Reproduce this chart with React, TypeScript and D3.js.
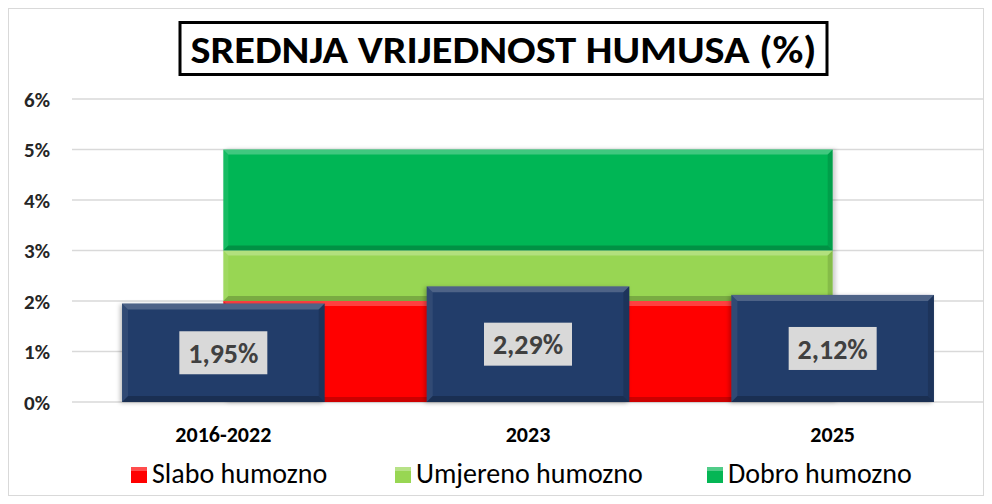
import React from "react";
import * as d3 from "d3";

const categories = ["2016-2022", "2023", "2025"];
const meanValues = [1.95, 2.29, 2.12];
const valueLabels = ["1,95%", "2,29%", "2,12%"];
const slaboBand = [2, 2, 2];
const umjerenoBand = [1, 1, 1];
const dobroBand = [2, 2, 2];
const yTicks = [0, 1, 2, 3, 4, 5, 6];
const seriesNames = ["Slabo humozno", "Umjereno humozno", "Dobro humozno"];
const seriesColors = ["#ff0000", "#98d653", "#05b655"];
const titleText = "SREDNJA VRIJEDNOST HUMUSA (%)";

const W = 992;
const H = 504;
const FONT = "Carlito, 'Liberation Sans Narrow', 'Open Sans', 'Liberation Sans', sans-serif";

function Bevel({ x0, y0, x1, y1, b, light = 0.22, dark = 0.25 }: any) {
  const pts = (a: number[][]) => a.map((p) => p.join(",")).join(" ");
  return (
    <g>
      <polygon points={pts([[x0, y0], [x1, y0], [x1 - b, y0 + b], [x0 + b, y0 + b]])} fill="#fff" opacity={light} />
      <polygon points={pts([[x0, y0], [x0 + b, y0 + b], [x0 + b, y1 - b], [x0, y1]])} fill="#fff" opacity={light * 0.35} />
      <polygon points={pts([[x1, y0], [x1, y1], [x1 - b, y1 - b], [x1 - b, y0 + b]])} fill="#000" opacity={dark * 0.6} />
      <polygon points={pts([[x0, y1], [x1, y1], [x1 - b, y1 - b], [x0 + b, y1 - b]])} fill="#000" opacity={dark} />
    </g>
  );
}

export default function App() {
  const x = d3.scaleBand<string>().domain(categories).range([71, 985]).paddingInner(0).paddingOuter(0);
  const y = d3.scaleLinear().domain([0, 6]).range([402, 99]);
  const barW = x.bandwidth() * 0.665;
  const cx = (c: string) => (x(c) as number) + x.bandwidth() / 2;

  const stackData = categories.map((c, i) => ({ c, s: slaboBand[i], u: umjerenoBand[i], d: dobroBand[i] }));
  const stack = d3.stack<any>().keys(["s", "u", "d"])(stackData);
  const area = d3
    .area<any>()
    .x((d: any) => cx(d.data.c))
    .y0((d: any) => y(d[0]))
    .y1((d: any) => y(d[1]));

  const legendX = [131, 395, 707];

  return (
    <svg width={W} height={H} style={{ position: "absolute", left: 0, top: 0 }} fontFamily={FONT}>
      <defs>
        <filter id="sh" x="-10%" y="-10%" width="120%" height="120%">
          <feDropShadow dx="-2" dy="1" stdDeviation="2" floodColor="#000" floodOpacity="0.25" />
        </filter>
        <filter id="sh2" x="-10%" y="-10%" width="120%" height="120%">
          <feDropShadow dx="3" dy="0" stdDeviation="2" floodColor="#000" floodOpacity="0.2" />
        </filter>
      </defs>
      <rect x={0} y={0} width={W} height={H} fill="#fff" />
      <rect x={8.5} y={8.5} width={975} height={487} fill="#fff" stroke="#d9d9d9" />

      {yTicks.map((t) => (
        <g key={t}>
          <line x1={72} x2={984} y1={y(t)} y2={y(t)} stroke="#d9d9d9" strokeWidth={1.3} />
          <text x={50} y={y(t)} dy="0.36em" textAnchor="end" fontWeight="bold" fontSize={21} fill="#262626">
            {t}%
          </text>
        </g>
      ))}

      <g filter="url(#sh2)">
        {stack.map((layer, i) => (
          <path key={i} d={area(layer as any) as string} fill={seriesColors[i]} />
        ))}
      </g>
      {stack.map((layer, i) => (
        <Bevel
          key={"b" + i}
          x0={cx(categories[0])}
          x1={cx(categories[categories.length - 1])}
          y0={y(layer[0][1])}
          y1={y(layer[0][0])}
          b={5}
          light={0.25}
          dark={0.2}
        />
      ))}

      {categories.map((c, i) => {
        const x0 = cx(c) - barW / 2;
        const x1 = cx(c) + barW / 2;
        const y0 = y(meanValues[i]);
        const y1 = y(0);
        return (
          <g key={c}>
            <rect x={x0} y={y0} width={barW} height={y1 - y0} fill="#223e6b" filter="url(#sh)" />
            <Bevel x0={x0} x1={x1} y0={y0} y1={y1} b={6} light={0.2} dark={0.22} />
            <rect x={cx(c) - 44} y={(y0 + y1) / 2 - 21.5} width={88} height={43} fill="#d9d9d9" />
            <text
              x={cx(c)}
              y={(y0 + y1) / 2}
              dy="0.36em"
              textAnchor="middle"
              fontWeight="bold"
              fontSize={28}
              fill="#404040"
            >
              {valueLabels[i]}
            </text>
            <text x={cx(c)} y={442} textAnchor="middle" fontWeight="bold" fontSize={22} fill="#000">
              {c}
            </text>
          </g>
        );
      })}

      {seriesNames.map((n, i) => (
        <g key={n}>
          <rect x={legendX[i]} y={467} width={16} height={16} fill={seriesColors[i]} />
          <rect x={legendX[i]} y={467} width={16} height={4} fill="#fff" opacity={0.3} />
          <text x={legendX[i] + 21} y={483} fontSize={28} fill="#000">
            {n}
          </text>
        </g>
      ))}

      <rect x={180} y={22.5} width={647} height={52} fill="#fff" stroke="#000" strokeWidth={3} />
      <text
        x={503.5}
        y={49}
        dy="0.36em"
        textAnchor="middle"
        fontWeight="bold"
        fontSize={38}
        fill="#000"
        textLength={626}
        lengthAdjust="spacingAndGlyphs"
      >
        {titleText}
      </text>
    </svg>
  );
}
